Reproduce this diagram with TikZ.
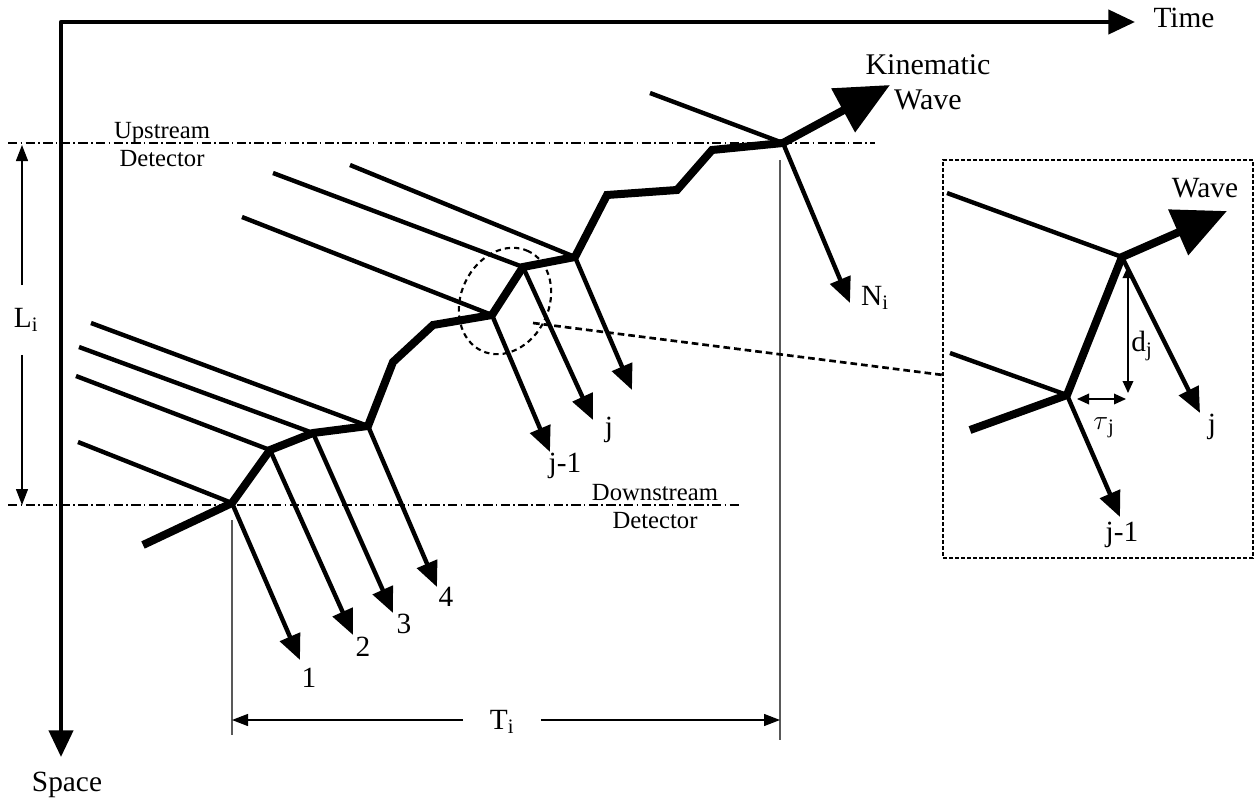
\documentclass[tikz,border=0pt]{standalone}
\usepackage{fontspec}
\setmainfont{Liberation Serif}
\usetikzlibrary{arrows.meta}
\begin{document}
\begin{tikzpicture}[x=0.75pt,y=-0.75pt,
  lab/.style={font=\fontsize{22}{26}\selectfont, inner sep=0pt},
  det/.style={font=\fontsize{18.5}{21}\selectfont, align=center, inner sep=0pt},
  traj/.style={line width=3.3pt, -{Triangle[length=19pt,width=16pt]}},
  wave/.style={line width=6pt, line join=miter, miter limit=4},
  bighead/.style={-{Triangle[length=40pt,width=36pt]}},
  detline/.style={line width=1pt, dash pattern=on 7pt off 2.5pt on 1.2pt off 2.5pt},
  guide/.style={line width=1pt, black!65},
  dimarr/.style={line width=1pt, -{Triangle[length=12pt,width=9pt]}},
  smallarr/.style={line width=1pt, {Triangle[length=9pt,width=8pt]}-{Triangle[length=9pt,width=8pt]}},
  axis/.style={line width=3.2pt, line join=round, {Triangle[length=20pt,width=18pt]}-{Triangle[length=20pt,width=18pt]}},
]
\useasboundingbox (0,0) rectangle (1258,803);

% axes
\coordinate (O) at (61,22);
\coordinate (xt) at (1135,22);
\coordinate (yt) at (61,757);
\draw[axis] (yt) -- (O) -- (xt);
\node[lab] (time) at (1184,18) {Time};
\node[lab] (space) at (67,785) {Space};

% detectors
\coordinate (u1) at (8,143);
\coordinate (u2) at (875,143);
\coordinate (d1) at (8,505);
\coordinate (d2) at (740,505);
\draw[detline] (u1) -- (u2);
\draw[detline] (d1) -- (d2);
\node[det] (up) at (162,145) {Upstream\\Detector};
\node[det] (down) at (655,507) {Downstream\\Detector};

% guides
\coordinate (g1a) at (232,520);
\coordinate (g1b) at (232,735);
\coordinate (g2a) at (780,160);
\coordinate (g2b) at (780,740);
\draw[guide] (g1a) -- (g1b);
\draw[guide] (g2a) -- (g2b);

% L_i
\coordinate (Ltop) at (22,145);
\coordinate (Lbot) at (22,505);
\node[lab, minimum height=52pt] (Li) at (26,320) {L\textsubscript{i}};
\draw[dimarr] (Li.north -| Ltop) -- (Ltop);
\draw[dimarr] (Li.south -| Lbot) -- (Lbot);

% T_i
\coordinate (Tl) at (232,720);
\coordinate (Tr) at (780,720);
\node[lab, minimum width=58pt] (Ti) at (502,722) {T\textsubscript{i}};
\draw[dimarr] (Ti.west |- Tl) -- (Tl);
\draw[dimarr] (Ti.east |- Tr) -- (Tr);

% wave vertices
\coordinate (w0) at (143,545);
\coordinate (w1) at (232,503);
\coordinate (w2) at (270,450);
\coordinate (w3) at (313,433);
\coordinate (w4) at (368,426);
\coordinate (w5) at (393,362);
\coordinate (w6) at (433,325);
\coordinate (w7) at (492,315);
\coordinate (w8) at (523,267);
\coordinate (w9) at (575,257);
\coordinate (w10) at (607,195);
\coordinate (w11) at (677,190);
\coordinate (w12) at (712,150);
\coordinate (w13) at (783,143);
\coordinate (wt) at (890,85);

% vehicles
\coordinate (v1s) at (78,442);  \coordinate (v1e) at (300,660);
\coordinate (v2s) at (76,376);  \coordinate (v2e) at (353,635);
\coordinate (v3s) at (79,347);  \coordinate (v3e) at (393,613);
\coordinate (v4s) at (91,323);  \coordinate (v4e) at (437,587);
\coordinate (vas) at (242,217); \coordinate (vae) at (550,452);
\coordinate (vbs) at (273,173); \coordinate (vbe) at (593,420);
\coordinate (vcs) at (350,165); \coordinate (vce) at (632,390);
\coordinate (vns) at (650,93);  \coordinate (vne) at (850,303);
\draw[traj] (v1s) -- (w1) -- (v1e);
\draw[traj] (v2s) -- (w2) -- (v2e);
\draw[traj] (v3s) -- (w3) -- (v3e);
\draw[traj] (v4s) -- (w4) -- (v4e);
\draw[traj] (vas) -- (w7) -- (vae);
\draw[traj] (vbs) -- (w8) -- (vbe);
\draw[traj] (vcs) -- (w9) -- (vce);
\draw[traj] (vns) -- (w13) -- (vne);

\draw[wave, bighead] (w0) -- (w1) -- (w2) -- (w3) -- (w4) -- (w5) -- (w6) -- (w7)
  -- (w8) -- (w9) -- (w10) -- (w11) -- (w12) -- (w13) -- (wt);

\node[lab] (n1) at (309,678) {1};
\node[lab] (n2) at (363,647) {2};
\node[lab] (n3) at (404,624) {3};
\node[lab] (n4) at (446,597) {4};
\node[lab] (nj1) at (565,466) {j-1};
\node[lab] (nj) at (609,430) {j};
\node[lab] (nN) at (875,298) {N\textsubscript{i}};
\node[lab, align=center, font=\fontsize{22.5}{26}\selectfont] (kw) at (928,82) {Kinematic\\Wave};

% zoom ellipse and connector
\draw[line width=1.6pt, dash pattern=on 4pt off 3pt, rotate around={65:(505,301)}]
  (505,301) ellipse [x radius=41.25pt, y radius=33pt];
\node[draw, line width=1.8pt, dash pattern=on 3pt off 1.5pt, minimum width=232.5pt,
  minimum height=298.5pt, inner sep=0pt] (inset) at (1098,359) {};
\coordinate (ce) at (533,323);
\coordinate (cb) at (943,375);
\draw[line width=2pt, dash pattern=on 5pt off 3pt] (ce) -- (cb);

% inset contents
\coordinate (ia) at (1122,257);
\coordinate (ib) at (1067,395);
\coordinate (its) at (947,193);
\coordinate (ijt) at (1200,413);
\coordinate (ils) at (950,353);
\coordinate (ij1t) at (1120,517);
\coordinate (iws) at (970,430);
\coordinate (iwt) at (1227,211);
\draw[traj] (its) -- (ia) -- (ijt);
\draw[traj] (ils) -- (ib) -- (ij1t);
\draw[wave, bighead] (iws) -- (ib) -- (ia) -- (iwt);
\coordinate (dtop) at (1128,266);
\coordinate (dbot) at (1128,393);
\draw[smallarr] (dtop) -- (dbot);
\coordinate (tl) at (1077,399);
\coordinate (tr) at (1126,399);
\draw[smallarr] (tl) -- (tr);
\node[lab] (iwave) at (1205,188) {Wave};
\node[lab] (ij) at (1212,427) {j};
\node[lab] (ij1) at (1122,535) {j-1};
\node[lab] (dj) at (1142,346) {d\textsubscript{j}};
\node[lab] (tau) at (1104,428) {$\tau$\textsubscript{j}};
\end{tikzpicture}
\end{document}
